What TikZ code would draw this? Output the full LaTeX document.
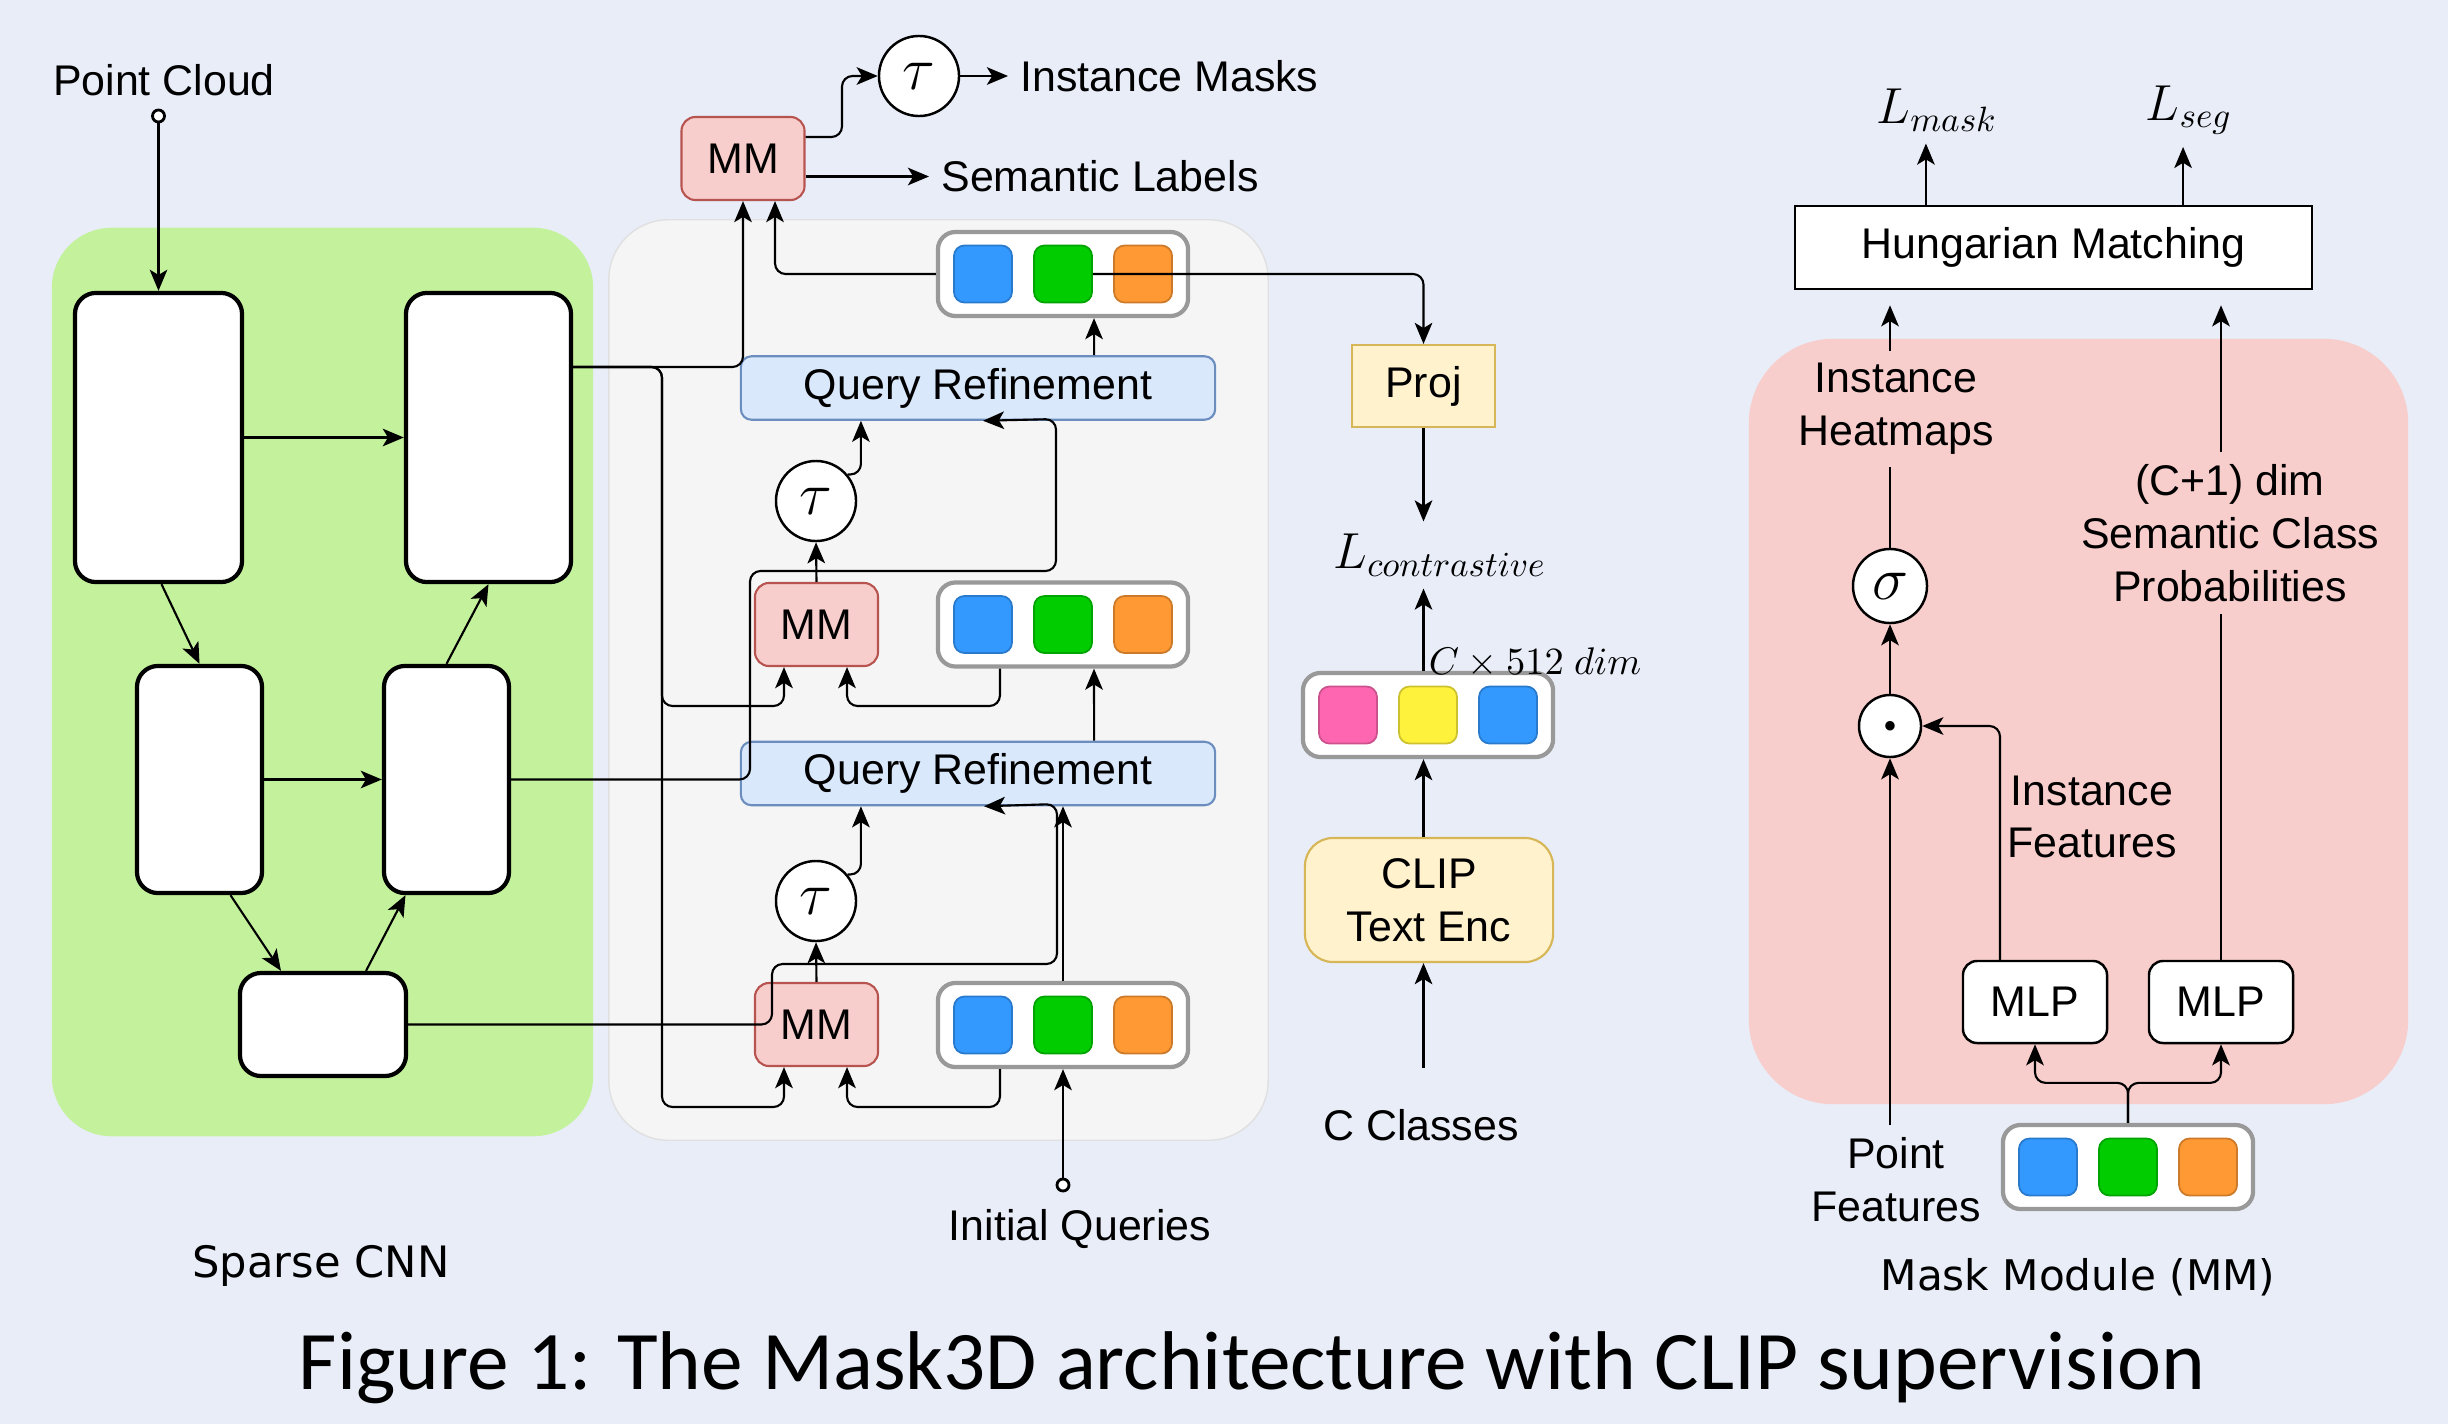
\documentclass[tikz,border=0pt]{standalone}
\usepackage{amsmath}
\usepackage{fontspec}
\setmainfont{Liberation Sans}
\newfontfamily\capfont{Carlito}
\newfontfamily\verdfont{DejaVu Sans}
\usetikzlibrary{arrows.meta, shapes, positioning, calc}

% a white strip holding three query tokens
\newcommand{\tokenrow}[6]{%
    \node[tokbox] (#1) at (#2,#3) {};
    \node[tok, fill=#4, draw=#4!80!black] (#1a) at ([xshift=-0.8cm]#1.center) {};
    \node[tok, fill=#5, draw=#5!80!black] (#1b) at (#1.center) {};
    \node[tok, fill=#6, draw=#6!80!black] (#1c) at ([xshift=0.8cm]#1.center) {};
}

\begin{document}
\begin{tikzpicture}
            [
                x=0.01cm, y=-0.01cm,
                every node/.style={font=\fontsize{12.2}{15}\selectfont},
                panel/.style={rectangle, rounded corners=17pt, inner sep=0pt},
                cnnblk/.style={rectangle, draw, fill=white, line width=1.2pt, rounded corners=6pt},
                mmblk/.style={rectangle, draw=mmEdge, fill=mmFill, line width=0.6pt, rounded corners=4pt,
                    minimum width=1.23cm, minimum height=0.83cm},
                qrblk/.style={rectangle, draw=qrEdge, fill=qrFill, line width=0.6pt, rounded corners=3pt,
                    minimum width=4.74cm, minimum height=0.62cm},
                tokbox/.style={rectangle, draw=black!40, fill=white, line width=1.2pt, rounded corners=5pt,
                    minimum width=2.5cm, minimum height=0.84cm},
                tok/.style={rectangle, rounded corners=3pt, inner sep=0pt, line width=0.5pt,
                    minimum width=0.58cm, minimum height=0.57cm},
                opnode/.style={circle, draw, fill=white, line width=0.7pt, inner sep=0pt,
                    font=\fontsize{17}{17}\selectfont},
                port/.style={circle, draw, fill=white, line width=0.8pt, inner sep=0pt, minimum size=0.12cm},
                yelblk/.style={rectangle, draw=projEdge, fill=projFill, line width=0.6pt},
                mlpblk/.style={rectangle, draw, fill=white, line width=0.7pt, rounded corners=4pt,
                    minimum width=1.44cm, minimum height=0.82cm},
                mathlbl/.style={font=\fontsize{14}{16}\selectfont},
                wire/.style={line width=0.6pt, rounded corners=3pt},
                arr/.style={wire, -{Stealth[length=6pt, width=5pt, inset=1.5pt]}}
            ]
            \definecolor{bgBlue}{RGB}{232,237,248}
            \definecolor{cnnGreen}{RGB}{196,242,156}
            \definecolor{decGray}{RGB}{245,245,245}
            \definecolor{mmFill}{RGB}{248,206,204}
            \definecolor{mmEdge}{RGB}{184,84,80}
            \definecolor{qrFill}{RGB}{218,232,252}
            \definecolor{qrEdge}{RGB}{108,142,191}
            \definecolor{projFill}{RGB}{255,242,204}
            \definecolor{projEdge}{RGB}{214,182,86}
            \definecolor{tokBlue}{RGB}{51,153,255}
            \definecolor{tokGreen}{RGB}{0,204,0}
            \definecolor{tokOrange}{RGB}{255,153,51}
            \definecolor{embPink}{RGB}{255,102,178}
            \definecolor{embYellow}{RGB}{255,242,60}

            \fill[bgBlue] (0,0) rectangle (2448,1424);
            \useasboundingbox (0,0) rectangle (2448,1424);

            % backgrounds
            \node[panel, fill=cnnGreen, minimum width=5.41cm, minimum height=9.08cm] (cnnPanel) at (322.5,682) {};
            \node[panel, fill=decGray, draw=black!12, minimum width=6.59cm, minimum height=9.2cm] (decPanel) at (938.5,680) {};
            \node[panel, fill=mmFill, rounded corners=24pt, minimum width=6.59cm, minimum height=7.65cm] (mmPanel) at (2078.5,721.5) {};

            % sparse CNN
            \node[cnnblk, minimum width=1.67cm, minimum height=2.89cm] (cnnA) at (158.5,437.5) {};
            \node[cnnblk, minimum width=1.65cm, minimum height=2.89cm] (cnnB) at (488.5,437.5) {};
            \node[cnnblk, minimum width=1.25cm, minimum height=2.27cm] (cnnC) at (199.5,779.5) {};
            \node[cnnblk, minimum width=1.25cm, minimum height=2.27cm] (cnnD) at (446.5,779.5) {};
            \node[cnnblk, minimum width=1.66cm, minimum height=1.03cm] (cnnE) at (323,1024.5) {};
            \node[port] (pcIn) at (158.5,116) {};
            \node (pcLbl) at (164,80) {Point Cloud};
            \node[font=\verdfont\fontsize{12.3}{14}\selectfont] (cnnLbl) at (321,1266) {Sparse CNN};
            \draw[arr] (pcIn) -- (cnnA.north);
            \draw[arr] (cnnA.east) -- (cnnB.west);
            \draw[arr] (cnnC.east) -- (cnnD.west);
            \draw[arr] ([xshift=0.03cm]cnnA.south) -- (cnnC.north);
            \draw[arr] ([xshift=0.31cm]cnnC.south) -- ([xshift=-0.42cm]cnnE.north);
            \draw[arr] ([xshift=0.43cm]cnnE.north) -- ([xshift=-0.41cm]cnnD.south);
            \draw[arr] (cnnD.north) -- (cnnB.south);

            % transformer decoder
            \node[mmblk] (mmT) at (743,158.5) {MM};
            \node[mmblk] (mmM) at (816.5,624.5) {MM};
            \node[mmblk] (mmL) at (816.5,1024.5) {MM};
            \node[opnode, minimum size=0.8cm] (tauT) at (919,76) {$\tau$};
            \node[opnode, minimum size=0.8cm] (tauU) at (816,501) {$\tau$};
            \node[opnode, minimum size=0.8cm] (tauL) at (816,901) {$\tau$};
            \node[qrblk] (qrU) at (978,388) {Query Refinement};
            \node[qrblk] (qrL) at (978,773.5) {Query Refinement};
            \tokenrow{tokT}{1063}{274}{tokBlue}{tokGreen}{tokOrange}
            \tokenrow{tokM}{1063}{624.5}{tokBlue}{tokGreen}{tokOrange}
            \tokenrow{tokL}{1063}{1025}{tokBlue}{tokGreen}{tokOrange}
            \node[anchor=west] (imLbl) at (1008,76) {Instance Masks};
            \node[anchor=west] (slLbl) at (929,176.5) {Semantic Labels};
            \node[port] (iqIn) at (1063,1185) {};
            \node (iqLbl) at (1080,1229) {Initial Queries};

            \draw[arr] ([yshift=0.215cm]mmT.east) -| (842,76) -- (tauT.west);
            \draw[arr] (tauT.east) -- (imLbl.west);
            \draw[arr] (slLbl.west -| mmT.east) -- (slLbl.west);
            \coordinate (featHi) at (662,367);
            \draw[arr] (cnnB.east |- featHi) -| (mmT.south);
            \draw[arr] (cnnB.east |- featHi) -- (featHi) |- (784,706) -- ([xshift=-0.325cm]mmM.south);
            \draw[arr] (cnnB.east |- featHi) -- (featHi) |- (784,1107) -- ([xshift=-0.325cm]mmL.south);
            \draw[arr] ([xshift=-0.63cm]tokM.south) |- (847,706) -- ([xshift=0.305cm]mmM.south);
            \draw[arr] ([xshift=-0.63cm]tokL.south) |- (847,1107) -- ([xshift=0.305cm]mmL.south);
            \draw[arr] (tokT.west) -| ([xshift=0.32cm]mmT.south);
            \draw[arr] (mmM.north) -- (tauU.south);
            \draw[arr] (mmL.north) -- (tauL.south);
            \draw[arr] (tauU.40) -| ([xshift=-1.17cm]qrU.south);
            \draw[arr] (tauL.40) -| ([xshift=-1.17cm]qrL.south);
            \draw[arr] ([xshift=1.16cm]qrU.north) -- ([xshift=0.31cm]tokT.south);
            \draw[arr] ([xshift=1.16cm]qrL.north) -- ([xshift=0.31cm]tokM.south);
            \draw[arr] (iqIn) -- (tokL.south);
            \draw[arr] (tokL.north) -- (tokL.north |- qrL.south);
            \draw[arr] (cnnE.east) -| (772,964) -| (1057,804) -- ([xshift=0.06cm]qrL.south);
            \draw[arr] (cnnD.east) -| (750,571) -| (1056,419) -- ([xshift=0.05cm]qrU.south);

            % CLIP branch
            \node[yelblk, minimum width=1.43cm, minimum height=0.82cm] (proj) at (1423.5,386) {Proj};
            \node[mathlbl] (lCon) at (1440,555) {$L_{contrastive}$};
            \tokenrow{emb}{1428}{715}{embPink}{embYellow}{tokBlue}
            \node[font=\fontsize{10.5}{12}\selectfont] (dimLbl) at (1535,663) {$C \times 512\ dim$};
            \node[yelblk, rounded corners=8pt, minimum width=2.48cm, minimum height=1.24cm, align=center] (clip) at (1429,900) {CLIP\\Text Enc};
            \node (clsLbl) at (1421,1125) {C Classes};
            \draw[arr] (tokTb.east) -| (proj.north);
            \draw[arr] (proj.south) -- (proj.south |- lCon.north);
            \draw[arr] (emb.north -| proj.south) -- (proj.south |- lCon.south);
            \draw[arr] (clip.north -| proj.south) -- (emb.south -| proj.south);
            \draw[arr, shorten <=0.29cm] (clsLbl.north -| proj.south) -- (clip.south -| proj.south);

            % mask module
            \node[rectangle, draw, fill=white, line width=0.7pt, minimum width=5.17cm, minimum height=0.83cm] (hm) at (2053.5,247.5) {Hungarian Matching};
            \node[mathlbl] (lMask) at (1937,110) {$L_{mask}$};
            \node[mathlbl] (lSeg) at (2189,110) {$L_{seg}$};
            \coordinate (hmL) at ([xshift=-1.275cm]hm.north);
            \coordinate (hmR) at ([xshift=1.295cm]hm.north);
            \draw[arr] (hmL) -- (hmL |- lMask.south);
            \draw[arr] (hmR) -- (hmR |- lSeg.south);
            \node[align=center] (ihLbl) at (1896,409) {Instance\\Heatmaps};
            \node[opnode, minimum size=0.74cm] (sig) at (1890,586) {$\sigma$};
            \node[opnode, minimum size=0.62cm] (dot) at (1890,726) {{\fontsize{6}{6}\selectfont$\bullet$}};
            \node[mlpblk] (mlpA) at (2035,1002) {MLP};
            \node[mlpblk] (mlpB) at (2221,1002) {MLP};
            \node[align=center] (ifLbl) at (2092,817) {Instance\\Features};
            \node[align=center] (scLbl) at (2230,533) {(C+1) dim\\Semantic Class\\Probabilities};
            \tokenrow{tokR}{2128}{1167}{tokBlue}{tokGreen}{tokOrange}
            \node[align=center] (pfLbl) at (1896,1180) {Point\\Features};
            \node[font=\verdfont\fontsize{12}{14}\selectfont] (mmLbl) at (2078,1277) {Mask Module (MM)};

            \draw[wire] (sig.north) -- (sig.north |- ihLbl.south);
            \draw[arr, shorten >=0.15cm] (sig.north |- ihLbl.north) -- (sig.north |- hm.south);
            \draw[arr] (dot.north) -- (sig.south);
            \coordinate (ifTap) at ([xshift=-0.35cm]mlpA.north);
            \draw[arr] (ifTap) |- (dot.east);
            \draw[wire] (mlpB.north) -- (mlpB.north |- scLbl.south);
            \draw[arr, shorten >=0.15cm] (mlpB.north |- scLbl.north) -- (mlpB.north |- hm.south);
            \draw[arr] (tokR.north) -- ++(0,-40) -| (mlpA.south);
            \draw[arr] (tokR.north) -- ++(0,-40) -| (mlpB.south);
            \draw[arr] (dot.south |- pfLbl.north) -- (dot.south);

            % caption
            \node[font=\capfont\fontsize{23.7}{28}\selectfont] (caption) at (1252,1368) {Figure 1: The Mask3D architecture with CLIP supervision};
        \end{tikzpicture}
\end{document}
